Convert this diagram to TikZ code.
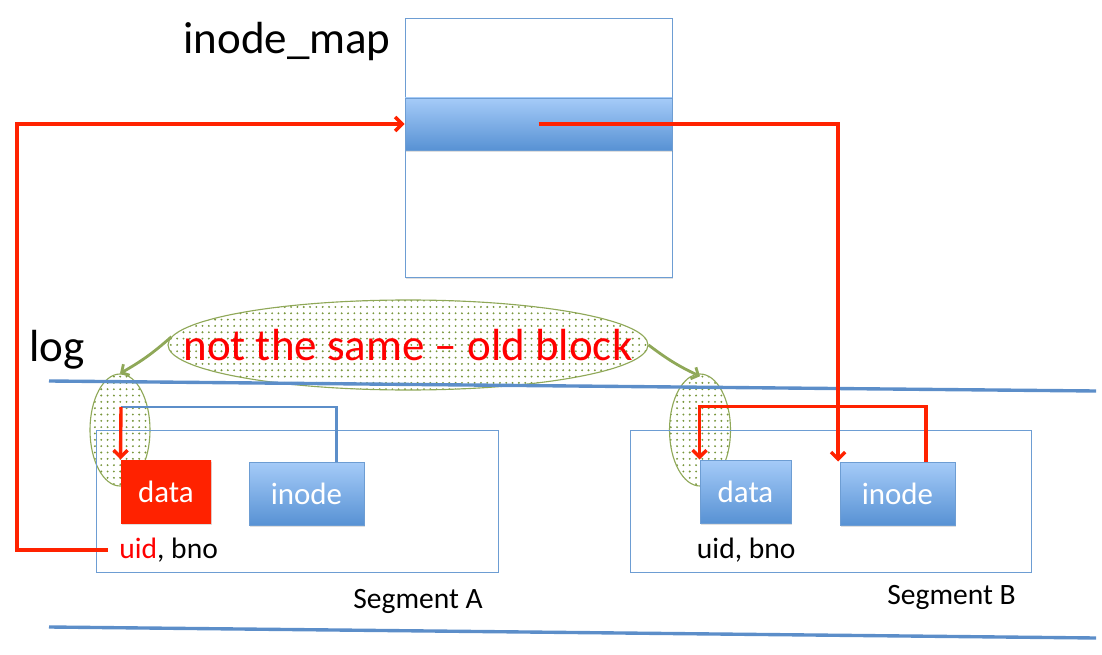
\documentclass[tikz,border=0pt]{standalone}
\usepackage{fontspec}
\setmainfont{Carlito}
\usetikzlibrary{positioning,shapes.geometric,patterns.meta,shadows,arrows.meta}

\definecolor{boxblue}{RGB}{109,157,211}
\definecolor{toplight}{RGB}{165,203,248}
\definecolor{botdark}{RGB}{88,146,212}
\definecolor{linkred}{RGB}{255,34,0}
\definecolor{logblue}{RGB}{92,142,201}
\definecolor{olivegreen}{RGB}{143,168,88}
\definecolor{dotgreen}{RGB}{120,150,60}

\begin{document}
\begin{tikzpicture}[x=0.025cm, y=-0.025cm, every node/.style={inner sep=2pt},
    sz/.style 2 args={minimum width=#1*0.025cm, minimum height=#2*0.025cm},
    shade/.style={drop shadow={opacity=0.25, shadow xshift=1pt, shadow yshift=-1.2pt}},
    frame/.style={draw=boxblue, line width=0.7pt},
    blk/.style={draw=boxblue, line width=0.7pt, top color=toplight, bottom color=botdark,
        text=white, font=\fontsize{22}{24}\selectfont, shade},
    bubble/.style={ellipse, draw=olivegreen, line width=0.8pt, inner sep=0pt,
        pattern={Dots[distance=4.5pt, radius=0.75pt]}, pattern color=dotgreen},
    tip/.style={-{Straight Barb[length=5pt, width=10pt]}},
    redline/.style={draw=linkred, line width=2.4pt},
    blueline/.style={draw=logblue, line width=2pt},
    greenarrow/.style={-{Straight Barb[length=4pt, width=9pt]}, draw=olivegreen, line width=2pt},
    big/.style={font=\fontsize{32}{36}\selectfont},
    small/.style={font=\fontsize{21}{23}\selectfont} ]

    \useasboundingbox (0,0) rectangle (1102,655);

    % the bubbles go under everything else
    \node[bubble, sz={480}{90}] (old) at (408,345) {};
    \node[text=red, big] (oldtext) at (old.center) {not the same -- old block};
    \node[bubble, sz={60}{112}] (ellA) at (120,430) {};
    \node[bubble, sz={61}{112}] (ellB) at (700,430) {};

    \draw[greenarrow] (old.178) to[bend left=6] (ellA.north);
    \draw[greenarrow] (old.east) to[bend right=6] ([yshift=-2pt]ellB.north);

    % inode map
    \node[frame, fill=white, shade, sz={267}{259}] (map) at (538.5,147.5) {};
    \node[blk, sz={267}{52}] (band) at (538.5,124) {};
    \node[big] (mapname) at (287,42) {inode\_map};

    % the log
    \node[big] (logname) at (57,350) {log};
    \coordinate (logtl) at (49,381);
    \coordinate (logtr) at (1096,391);
    \coordinate (logbl) at (49,627);
    \coordinate (logbr) at (1096,638);
    \draw[blueline, line width=2.4pt] (logtl) -- (logtr);
    \draw[blueline, line width=2.4pt] (logbl) -- (logbr);

    % segment A
    \node[frame, sz={402}{142}] (segA) at (297,501) {};
    \node[small, below left=10pt and 9pt of segA.south east] (segAname) {Segment A};
    \node[blk, draw=none, top color=linkred, bottom color=linkred, sz={90}{63}] (dataA) at (166,491.5) {data};
    \node[blk, sz={115}{63}] (inodeA) at (306.5,493.5) {inode};
    \node[small, below right=8pt and -3pt of dataA.south west] (uidA) {\textcolor{red}{uid}, bno};

    % segment B
    \node[frame, sz={401}{142}] (segB) at (830.5,501) {};
    \node[small, below left=7pt and 9pt of segB.south east] (segBname) {Segment B};
    \node[blk, sz={91}{63}] (dataB) at (745.5,491.5) {data};
    \node[blk, sz={115}{63}] (inodeB) at (897.5,493.5) {inode};
    \node[small, below right=8pt and -4pt of dataB.south west] (uidB) {uid, bno};

    % uid points back into the map
    \coordinate (lft) at (17,0);
    \draw[redline, tip] ([xshift=-6pt]uidA.west) -- (uidA.west -| lft) |- (band.west);

    % map entry points at the new inode
    \draw[redline, tip] (band.center) -| ([xshift=-1pt]inodeB.north west);

    % inode B points at its data
    \draw[redline, tip] ([xshift=0.71cm]inodeB.north) -- ++(0,-55) -| (dataB.north west);

    % inode A still points at the old data
    \coordinate (cornA) at (121,407);
    \draw[blueline] ([xshift=0.74cm]inodeA.north) |- (cornA);
    \draw[redline, tip] (cornA) -- (dataA.north west);

\end{tikzpicture}
\end{document}
